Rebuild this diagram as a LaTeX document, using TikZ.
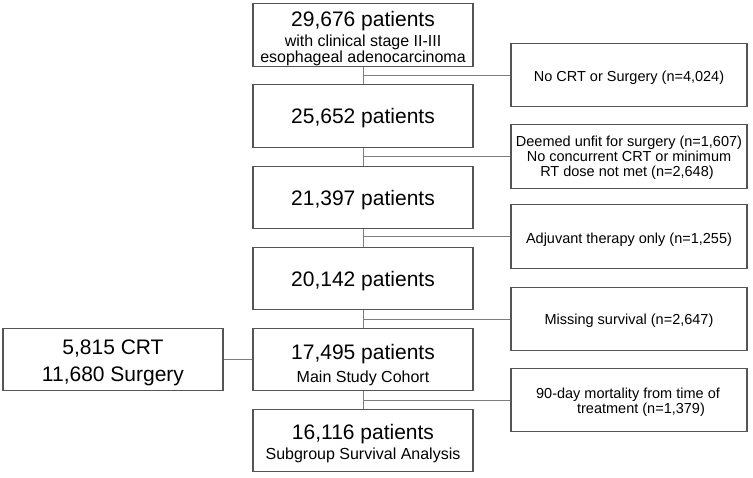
\documentclass[tikz,border=0pt]{standalone}
\usepackage{fontspec}
\setmainfont{Liberation Sans}
\definecolor{boxgray}{RGB}{85,85,85}
\definecolor{linegray}{RGB}{125,125,125}
\begin{document}
\begin{tikzpicture}[x=1pt,y=-1pt,
  box/.style={draw=boxgray, line width=1.1pt, inner sep=0pt, minimum width=220pt, minimum height=62.5pt},
  rbox/.style={draw=boxgray, line width=1.1pt, inner sep=0pt, minimum width=236pt, minimum height=63.5pt},
  link/.style={draw=linegray, line width=0.9pt},
  big/.style={font=\fontsize{21}{24}\selectfont, inner sep=0pt, anchor=base},
  sub/.style={font=\fontsize{16}{18}\selectfont, inner sep=0pt, anchor=base},
  side/.style={font=\fontsize{14.5}{16}\selectfont, inner sep=0pt, anchor=base}]
\useasboundingbox (0,0) rectangle (753,477);

% main column boxes
\node[box] (b1) at (363,35) {};
\node[box] (b2) at (363,116) {};
\node[box] (b3) at (363,197.5) {};
\node[box] (b4) at (363,278.5) {};
\node[box] (b5) at (363,359.5) {};
\node[box] (b6) at (363,440.5) {};
% left box
\node[box] (lb) at (113,359.5) {};
% right boxes
\node[rbox] (r1) at (629,75) {};
\node[rbox] (r2) at (629,156.5) {};
\node[rbox] (r3) at (629,236.5) {};
\node[rbox] (r4) at (629,319) {};
\node[rbox] (r5) at (629,400) {};

% texts
\node[big] (t1a) at (363,26) {29,676 patients};
\node[sub] (t1b) at (363,46.7) {with clinical stage II-III};
\node[sub] (t1c) at (363,62.7) {esophageal adenocarcinoma};
\node[big] (t2) at (363,123.5) {25,652 patients};
\node[big] (t3) at (363,205) {21,397 patients};
\node[big] (t4) at (363,286) {20,142 patients};
\node[big] (t5a) at (363,359) {17,495 patients};
\node[sub] (t5b) at (363,382) {Main Study Cohort};
\node[big] (t6a) at (363,439.5) {16,116 patients};
\node[sub] (t6b) at (363,459.5) {Subgroup Survival Analysis};
\node[big] (tla) at (113,354.3) {5,815 CRT};
\node[big] (tlb) at (113,381) {11,680 Surgery};

\node[side] (s1) at (629,81) {No CRT or Surgery (n=4,024)};
\node[side] (s2a) at (629,146) {Deemed unfit for surgery (n=1,607)};
\node[side] (s2b) at (629,161.3) {No concurrent CRT or minimum};
\node[side] (s2c) at (627,176.7) {RT dose not met (n=2,648)};
\node[side] (s3) at (629,243) {Adjuvant therapy only (n=1,255)};
\node[side] (s4) at (629,324.7) {Missing survival (n=2,647)};
\node[side] (s5a) at (628,398) {90-day mortality from time of};
\node[side] (s5b) at (641,413) {treatment (n=1,379)};

% connectors
\draw[link] (b1.south) -- (b2.north);
\draw[link] (b2.south) -- (b3.north);
\draw[link] (b3.south) -- (b4.north);
\draw[link] (b4.south) -- (b5.north);
\draw[link] (b5.south) -- (b6.north);
\draw[link] (b1.south |- r1.west) -- (r1.west);
\draw[link] (b2.south |- r2.west) -- (r2.west);
\draw[link] (b3.south |- r3.west) -- (r3.west);
\draw[link] (b4.south |- r4.west) -- (r4.west);
\draw[link] (b5.south |- r5.west) -- (r5.west);
\draw[link] (lb.east) -- (b5.west);
\end{tikzpicture}
\end{document}
